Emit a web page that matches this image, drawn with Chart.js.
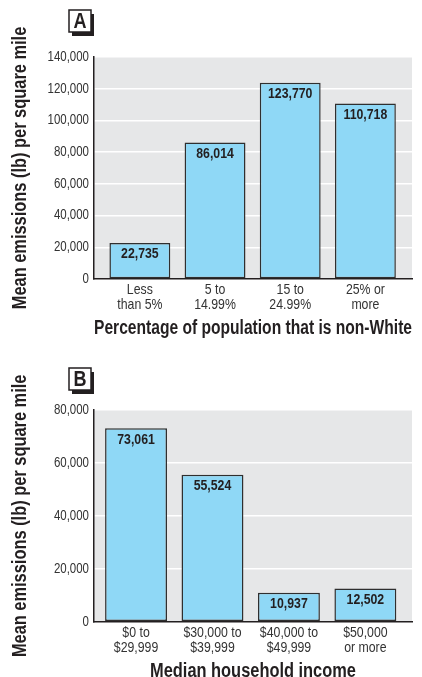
<!DOCTYPE html>
<html>
<head>
<meta charset="utf-8">
<script src="https://cdn.jsdelivr.net/npm/chart.js@4"></script>
<style>
  html, body { margin: 0; padding: 0; background: #fff; overflow: hidden; }
  .panel { position: absolute; left: 0; width: 422px; height: 340px; }
  #panelA { top: 0; }
  #panelB { top: 345px; }
</style>
</head>
<body>
<div class="panel" id="panelA"><canvas id="chartA" width="422" height="340"></canvas></div>
<div class="panel" id="panelB"><canvas id="chartB" width="422" height="340"></canvas></div>
<script>
// Panel A: emissions by share of non-White population
const categoriesA = [['Less', 'than 5%'], ['5 to', '14.99%'], ['15 to', '24.99%'], ['25% or', 'more']];
const emissionsA = [22735, 86014, 123770, 110718];
const yTicksA = [0, 20000, 40000, 60000, 80000, 100000, 120000, 140000];

// Panel B: emissions by median household income
const categoriesB = [['$0 to', '$29,999'], ['$30,000 to', '$39,999'], ['$40,000 to', '$49,999'], ['$50,000', 'or more']];
const emissionsB = [73061, 55524, 10937, 12502];
const yTicksB = [0, 20000, 40000, 60000, 80000];

const yTitle = 'Mean emissions (lb) per square mile';
const xTitleA = 'Percentage of population that is non-White';
const xTitleB = 'Median household income';

const FONT = "'Liberation Sans', Arial, sans-serif";
const INK = '#231f20';
const fmt = v => Number(v).toLocaleString('en-US');

// Condensed lettering: every string drawn on these canvases is squeezed
// horizontally (along its own baseline, so rotated titles work too).
const SQUEEZE = 0.82;
function condense(canvas) {
  const ctx = canvas.getContext('2d');
  const fill = ctx.fillText.bind(ctx);
  const measure = ctx.measureText.bind(ctx);
  ctx.fillText = function (text, x, y, maxWidth) {
    this.save();
    this.translate(x, y);
    this.scale(SQUEEZE, 1);
    if (maxWidth === undefined) fill(text, 0, 0);
    else fill(text, 0, 0, maxWidth / SQUEEZE);
    this.restore();
  };
  ctx.measureText = function (text) {
    const m = measure(text);
    return {
      width: m.width * SQUEEZE,
      actualBoundingBoxLeft: m.actualBoundingBoxLeft * SQUEEZE,
      actualBoundingBoxRight: m.actualBoundingBoxRight * SQUEEZE,
      actualBoundingBoxAscent: m.actualBoundingBoxAscent,
      actualBoundingBoxDescent: m.actualBoundingBoxDescent
    };
  };
  return canvas;
}

// gray plot background
const plotBackground = {
  id: 'plotBackground',
  beforeDraw(chart) {
    const { ctx, chartArea: a } = chart;
    ctx.save();
    ctx.fillStyle = '#e6e7e8';
    ctx.fillRect(a.left, a.top, a.right - a.left, a.bottom - a.top);
    ctx.restore();
  }
};

// value printed just inside the top of each bar
const barValues = {
  id: 'barValues',
  afterDatasetsDraw(chart) {
    const { ctx } = chart;
    const meta = chart.getDatasetMeta(0);
    const data = chart.data.datasets[0].data;
    ctx.save();
    ctx.font = 'bold 15px ' + FONT;
    ctx.fillStyle = INK;
    ctx.textAlign = 'center';
    ctx.textBaseline = 'middle';
    meta.data.forEach((bar, i) => {
      ctx.fillText(fmt(data[i].y), bar.x, bar.y + 11);
    });
    ctx.restore();
  }
};

// boxed panel letter with drop shadow
const panelLetter = {
  id: 'panelLetter',
  afterDraw(chart, args, opts) {
    const { ctx } = chart;
    const x = opts.x, y = opts.y, w = 22, h = 22;
    ctx.save();
    ctx.fillStyle = INK;
    ctx.fillRect(x + 3, y + 4, w, h);
    ctx.fillStyle = '#fff';
    ctx.fillRect(x, y, w, h);
    ctx.strokeStyle = INK;
    ctx.lineWidth = 1.5;
    ctx.strokeRect(x, y, w, h);
    ctx.fillStyle = INK;
    ctx.font = 'bold 22px ' + FONT;
    ctx.textAlign = 'center';
    ctx.textBaseline = 'middle';
    ctx.fillText(opts.text, x + w / 2, y + h / 2 + 1);
    ctx.restore();
  }
};

function makeChart(canvasId, categories, values, yTicks, xTitle, cfg) {
  const yMax = yTicks[yTicks.length - 1];
  return new Chart(condense(document.getElementById(canvasId)), {
    type: 'bar',
    data: {
      datasets: [{
        data: values.map((v, i) => ({ x: i, y: v })),
        backgroundColor: '#8fd8f6',
        borderColor: '#2f2f2f',
        borderWidth: 1.5,
        borderSkipped: false,
        barPercentage: 0.81,
        categoryPercentage: 1
      }]
    },
    options: {
      responsive: false,
      animation: false,
      layout: { padding: { left: 0, top: cfg.top, right: 10, bottom: 0 } },
      plugins: {
        legend: { display: false },
        tooltip: { enabled: false },
        panelLetter: { text: cfg.letter, x: 69, y: cfg.letterY }
      },
      scales: {
        x: {
          type: 'linear',
          offset: false,
          min: cfg.xMin,
          max: cfg.xMax,
          afterBuildTicks: s => { s.ticks = categories.map((c, i) => ({ value: i })); },
          afterFit: s => { s.height = cfg.xHeight; },
          grid: { display: false, drawTicks: false, offset: false },
          border: { display: true, color: INK, width: 1.5 },
          ticks: {
            autoSkip: false,
            maxRotation: 0,
            padding: 4,
            color: '#333',
            font: { family: FONT, size: 15, lineHeight: 0.97 },
            callback: v => categories[v]
          },
          title: {
            display: true,
            text: xTitle,
            color: INK,
            font: { family: FONT, size: 20, weight: 'bold' },
            padding: { top: 0, bottom: cfg.titlePad }
          }
        },
        y: {
          min: 0,
          max: yMax,
          afterBuildTicks: s => { s.ticks = yTicks.map(v => ({ value: v })); },
          afterFit: s => { s.width = 94; },
          grid: {
            drawTicks: false,
            color: c => (c.tick && c.tick.value === 0) ? 'rgba(0,0,0,0)' : '#ffffff',
            lineWidth: 1.5
          },
          border: { display: true, color: INK, width: 1.5 },
          ticks: {
            padding: 5,
            color: '#333',
            font: { family: FONT, size: 14 },
            callback: v => fmt(v)
          },
          title: {
            display: true,
            text: yTitle,
            color: INK,
            font: { family: FONT, size: 20, weight: 'bold' },
            padding: { top: 8, bottom: 0 }
          }
        }
      }
    },
    plugins: [plotBackground, barValues, panelLetter]
  });
}

const chartA = makeChart('chartA', categoriesA, emissionsA, yTicksA, xTitleA,
  { top: 57, xHeight: 61, titlePad: 0, xMin: -0.61, xMax: 3.62, letter: 'A', letterY: 10 });
const chartB = makeChart('chartB', categoriesB, emissionsB, yTicksB, xTitleB,
  { top: 65, xHeight: 63.3, titlePad: 2, xMin: -0.55, xMax: 3.61, letter: 'B', letterY: 23 });
</script>
</body>
</html>
